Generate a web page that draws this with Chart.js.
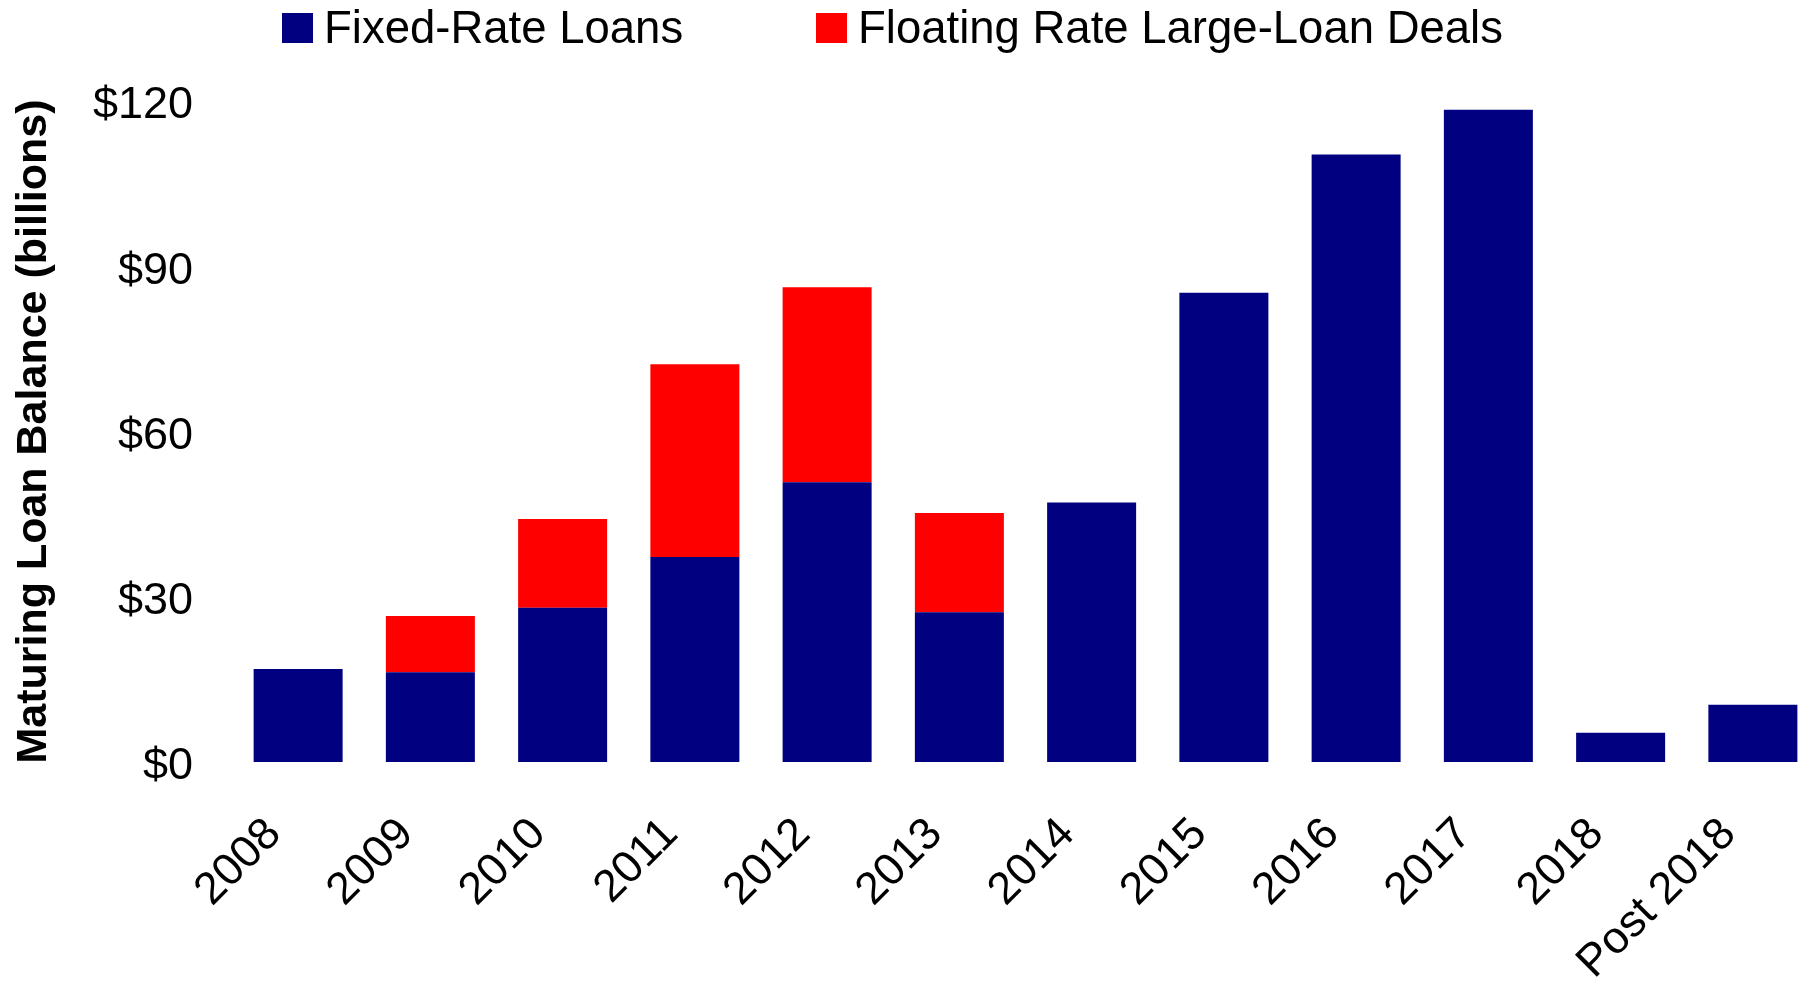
<!DOCTYPE html>
<html>
<head>
<meta charset="utf-8">
<script src="https://cdn.jsdelivr.net/npm/chart.js@4"></script>
<style>
  html, body { margin: 0; padding: 0; background: #fff; overflow: hidden; }
  #wrap { position: relative; width: 1808px; height: 989px; overflow: hidden; }
  #legend { position: absolute; left: 0; top: 0; font-family: "Liberation Sans", Arial, sans-serif; font-size: 45.5px; line-height: 45px; color: #000; }
  .item { position: absolute; top: 5px; white-space: nowrap; }
  .box { position: absolute; top: 13px; width: 31px; height: 30px; }
</style>
</head>
<body>
<div id="wrap">
  <canvas id="chart"></canvas>
  <div id="legend"></div>
</div>
<script>
// categories along the x axis
var years = ['2008', '2009', '2010', '2011', '2012', '2013', '2014', '2015', '2016', '2017', '2018', 'Post 2018'];
// maturing balances, $ billions
var fixedRate = [16.9, 16.3, 28.0, 37.2, 50.8, 27.2, 47.1, 85.2, 110.3, 118.4, 5.3, 10.4];
var floatingRate = [0, 10.2, 16.1, 35.0, 35.4, 18.0, 0, 0, 0, 0, 0, 0];
var yTicks = [0, 30, 60, 90, 120];

var seriesNames = ['Fixed-Rate Loans', 'Floating Rate Large-Loan Deals'];
var seriesColors = ['#000080', '#FF0000'];

var fontFamily = '"Liberation Sans", Arial, sans-serif';

var canvas = document.getElementById('chart');
canvas.style.width = '1819px';
canvas.style.height = '989px';

var chart = new Chart(canvas.getContext('2d'), {
  type: 'bar',
  data: {
    labels: years,
    datasets: [{
      label: seriesNames[0],
      data: fixedRate,
      backgroundColor: seriesColors[0],
      borderWidth: 0
    }, {
      label: seriesNames[1],
      data: floatingRate,
      backgroundColor: seriesColors[1],
      borderWidth: 0
    }]
  },
  options: {
    responsive: false,
    animation: false,
    devicePixelRatio: 1,
    layout: { padding: { top: 101, left: 0, right: 0, bottom: 0 } },
    datasets: {
      bar: { categoryPercentage: 1, barPercentage: 0.673 }
    },
    plugins: {
      legend: { display: false },
      tooltip: { enabled: false }
    },
    scales: {
      x: {
        stacked: true,
        grid: { display: false },
        border: { display: false },
        afterFit: function(scale) {
          scale.height = 227;
          scale.paddingLeft = 0;
          scale.paddingRight = 0;
        },
        ticks: {
          color: '#000',
          font: { family: fontFamily, size: 45 },
          minRotation: 45,
          maxRotation: 45,
          autoSkip: false,
          padding: 38,
          labelOffset: -24
        }
      },
      y: {
        stacked: true,
        min: 0,
        max: 120,
        grid: { display: false },
        border: { display: false },
        afterBuildTicks: function(scale) {
          scale.ticks = yTicks.map(function(v) { return { value: v }; });
        },
        afterFit: function(scale) {
          scale.width = 232;
        },
        ticks: {
          color: '#000',
          font: { family: fontFamily, size: 45 },
          padding: 31,
          labelOffset: 5,
          callback: function(v) { return '$' + v; }
        },
        title: {
          display: true,
          text: 'Maturing Loan Balance (billions)',
          color: '#000',
          font: { family: fontFamily, size: 43, weight: 'bold' },
          padding: { top: 8, bottom: 0 }
        }
      }
    }
  }
});

// legend drawn as html text next to the canvas
var legend = document.getElementById('legend');
var boxX = [282, 816];
var textX = [324, 858];
chart.data.datasets.forEach(function(ds, i) {
  var box = document.createElement('div');
  box.className = 'box';
  box.style.left = boxX[i] + 'px';
  box.style.background = ds.backgroundColor;
  legend.appendChild(box);
  var txt = document.createElement('div');
  txt.className = 'item';
  txt.style.left = textX[i] + 'px';
  txt.textContent = ds.label;
  legend.appendChild(txt);
});
</script>
</body>
</html>
